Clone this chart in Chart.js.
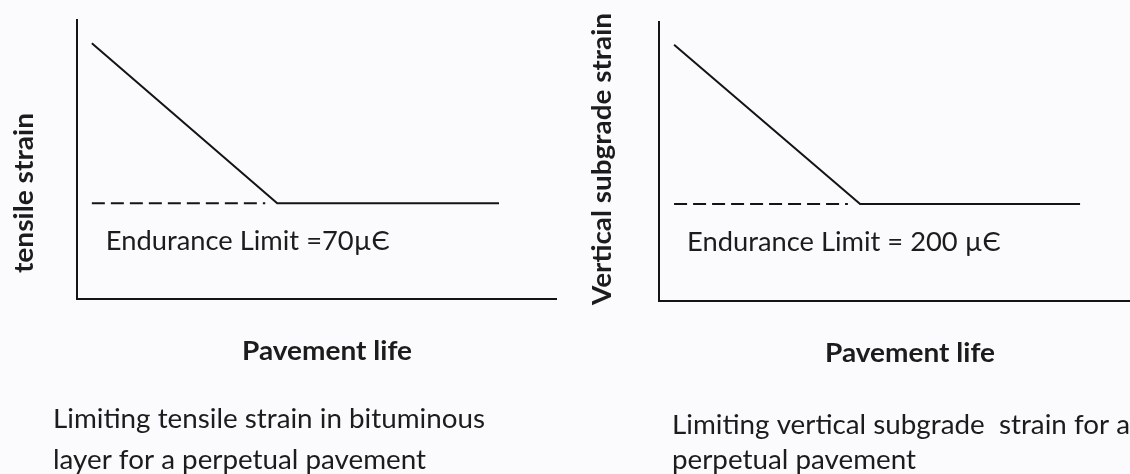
<!DOCTYPE html>
<html>
<head>
<meta charset="utf-8">
<script src="https://cdn.jsdelivr.net/npm/chart.js@4.4.1/dist/chart.umd.min.js"></script>
<style>
  html, body { margin: 0; padding: 0; background: #fbfafc; }
  #wrap { position: relative; width: 1130px; height: 474px; overflow: hidden; }
  .panel { position: absolute; top: 0; width: 565px; height: 474px; }
  canvas { display: block; }
</style>
</head>
<body>
<div id="wrap">
  <div class="panel" style="left:0"><canvas id="tensile" width="565" height="474"></canvas></div>
  <div class="panel" style="left:565px"><canvas id="subgrade" width="565" height="474"></canvas></div>
</div>
<script>
// Pavement life (unscaled units) at each break of the strain curve
const tensileLife      = [3.1, 41.8, 88.1];
const tensileStrain    = [187, 70, 70];      // µε
const tensileLimit     = 70;                 // µε endurance limit
const tensileLimitLife = [3.1, 39.3];        // extent of the dashed limit line

const subgradeLife      = [3.2, 42.7, 89.4];
const subgradeStrain    = [528, 200, 200];   // µε
const subgradeLimit     = 200;               // µε endurance limit
const subgradeLimitLife = [3.2, 40.1];

const lifeRange     = [0, 100];
const tensileRange  = [0, 204];
const subgradeRange = [0, 575];

const yTitles     = ['tensile strain', 'Vertical subgrade strain'];
const xTitle      = 'Pavement life';
const limitLabels = ['Endurance Limit =70\u00B5\u0404', 'Endurance Limit = 200 \u00B5\u0404'];
const captions    = [
  ['Limiting tensile strain in bituminous', 'layer for a perpetual pavement'],
  ['Limiting vertical subgrade  strain for a', 'perpetual pavement']
];

const W = 565, H = 474;
const INK = '#141414';
const TEXT = '#1c1c1c';
const FAMILY = 'Lato, "Open Sans", sans-serif';
const CAP = 19;   // cap height of every label, px

// Font size giving the wanted cap height, and the horizontal squeeze that
// makes `fitText` span `fitWidth` pixels at that size.
function textMetrics(ctx, it) {
  ctx.font = `${it.weight} 100px ${FAMILY}`;
  const asc = ctx.measureText('H').actualBoundingBoxAscent;
  const size = 100 * CAP / asc;
  ctx.font = `${it.weight} ${size}px ${FAMILY}`;
  const w = ctx.measureText(it.fitText || it.text).width;
  return { size, squeeze: it.fitWidth / w };
}

const panelText = {
  id: 'panelText',
  afterDraw(chart, args, opts) {
    const ctx = chart.ctx;
    ctx.save();
    ctx.fillStyle = TEXT;
    for (const it of opts.items) {
      const m = textMetrics(ctx, it);
      ctx.font = `${it.weight} ${m.size}px ${FAMILY}`;
      const p = typeof it.at === 'function' ? it.at(chart) : it.at;
      ctx.save();
      ctx.translate(p.x, p.y);
      if (it.rotate) ctx.rotate(it.rotate);
      ctx.scale(m.squeeze, 1);
      ctx.textAlign = it.align || 'left';
      ctx.textBaseline = 'alphabetic';
      ctx.fillText(it.text, 0, 0);
      ctx.restore();
    }
    ctx.restore();
  }
};

function makePanel(id, cfg) {
  const pts = (xs, ys) => xs.map((x, i) => ({ x, y: ys[i] }));
  const axisCommon = {
    type: 'linear',
    grid: { display: false, drawTicks: false, lineWidth: 2 },
    ticks: { display: false },
    border: { display: true, color: INK, width: 2 }
  };
  return new Chart(document.getElementById(id), {
    type: 'line',
    data: {
      datasets: [
        { data: pts(cfg.life, cfg.strain), borderColor: INK, borderWidth: 2,
          pointRadius: 0, tension: 0, fill: false },
        { data: cfg.limitLife.map(x => ({ x, y: cfg.limit })), borderColor: INK, borderWidth: 2,
          borderDash: [13, 6], pointRadius: 0, tension: 0, fill: false }
      ]
    },
    options: {
      responsive: false,
      animation: false,
      events: [],
      layout: { padding: { left: 0, top: cfg.area.top, right: W - cfg.area.right, bottom: 0 } },
      scales: {
        x: Object.assign({}, axisCommon, {
          position: 'bottom', min: lifeRange[0], max: lifeRange[1],
          afterFit: s => { s.height = H - cfg.area.bottom; }
        }),
        y: Object.assign({}, axisCommon, {
          position: 'left', min: cfg.range[0], max: cfg.range[1],
          afterFit: s => { s.width = cfg.area.left; }
        })
      },
      plugins: {
        legend: { display: false },
        tooltip: { enabled: false },
        panelText: { items: cfg.texts }
      }
    },
    plugins: [panelText]
  });
}

const captionFit = { fitText: captions[1][0], fitWidth: 458 };
const limitFit = { fitText: limitLabels[0], fitWidth: 284 };

makePanel('tensile', {
  life: tensileLife, strain: tensileStrain, limit: tensileLimit, limitLife: tensileLimitLife,
  range: tensileRange,
  area: { left: 77, right: 556, top: 20, bottom: 299 },
  texts: [
    { text: yTitles[0], weight: 'bold', fitWidth: 160,
      rotate: -Math.PI / 2, align: 'center', at: { x: 33, y: 193 } },
    Object.assign({ text: limitLabels[0], weight: 'normal',
      at: c => ({ x: c.scales.x.getPixelForValue(tensileLife[0]) + 14, y: c.scales.y.getPixelForValue(tensileLimit) + 47 }) }, limitFit),
    { text: xTitle, weight: 'bold', fitWidth: 170, at: { x: 242, y: 360 } },
    Object.assign({ text: captions[0][0], weight: 'normal', at: { x: 53, y: 428 } }, captionFit),
    Object.assign({ text: captions[0][1], weight: 'normal', at: { x: 53, y: 469 } }, captionFit)
  ]
});

makePanel('subgrade', {
  life: subgradeLife, strain: subgradeStrain, limit: subgradeLimit, limitLife: subgradeLimitLife,
  range: subgradeRange,
  area: { left: 94, right: 565, top: 22, bottom: 301 },
  texts: [
    { text: yTitles[1], weight: 'bold', fitWidth: 292,
      rotate: -Math.PI / 2, align: 'center', at: { x: 46, y: 159 } },
    Object.assign({ text: limitLabels[1], weight: 'normal',
      at: c => ({ x: c.scales.x.getPixelForValue(subgradeLife[0]) + 13, y: c.scales.y.getPixelForValue(subgradeLimit) + 47 }) }, limitFit),
    { text: xTitle, weight: 'bold', fitWidth: 170, at: { x: 260, y: 362 } },
    Object.assign({ text: captions[1][0], weight: 'normal', at: { x: 107, y: 434 } }, captionFit),
    Object.assign({ text: captions[1][1], weight: 'normal', at: { x: 107, y: 469 } }, captionFit)
  ]
});
</script>
</body>
</html>
